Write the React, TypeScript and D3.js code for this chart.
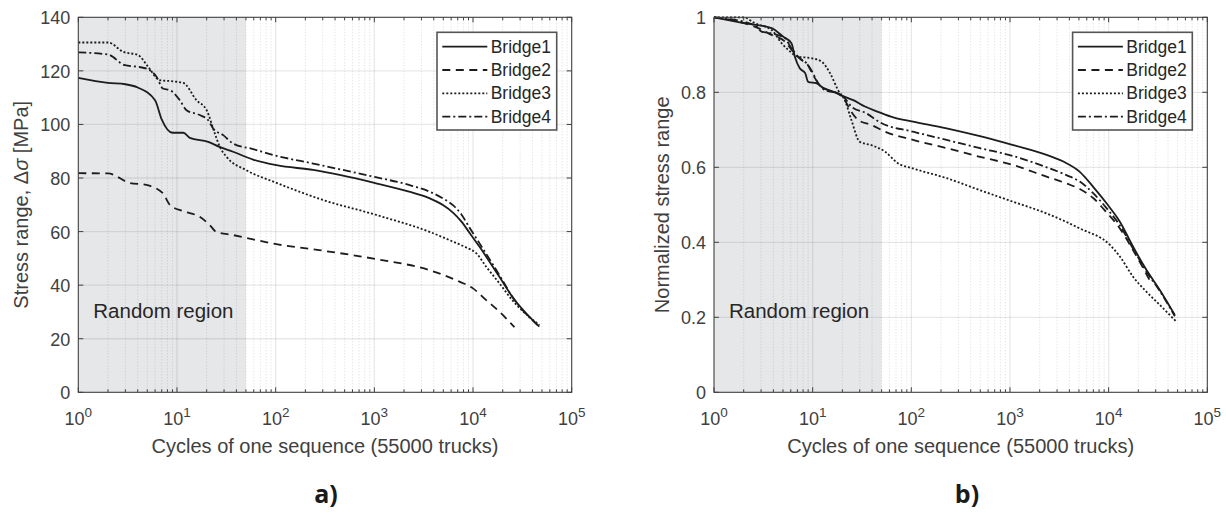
import React from 'react';
import * as d3 from 'd3';

type Pt = [number, number];

// ---------- data ----------
const SERIES_NAMES = ['Bridge1', 'Bridge2', 'Bridge3', 'Bridge4'];
const X_TICK_EXPONENTS = [0, 1, 2, 3, 4, 5];
const LEFT_Y_TICKS = [0, 20, 40, 60, 80, 100, 120, 140];
const RIGHT_Y_TICKS = [0, 0.2, 0.4, 0.6, 0.8, 1];
const RIGHT_Y_LABELS = ['0', '0.2', '0.4', '0.6', '0.8', '1'];
const RANDOM_REGION_END = 50;

// a) Stress range [MPa]
const STRESS_B1: Pt[] = [[1,117.4],[2,115.5],[3,115],[4,113.8],[6,109],[7,101.9],[9,96.9],[11.6,96.9],[13.5,95],[20.7,93.5],[27,91.6],[37,89.8],[59,86.9],[102,84.8],[240,83],[1000,78.2],[2200,75],[3600,72.5],[5000,69.8],[6300,67],[7600,63.8],[9200,59.6],[11650,54.3],[18500,43.1],[25000,35.7],[47000,24.5]];
const STRESS_B2: Pt[] = [[1,81.8],[2,81.7],[3.3,78.2],[4.9,77.4],[7.2,74.3],[8.5,69.9],[11.6,67.6],[17,65.5],[21.5,62.4],[25,59.9],[37,58.7],[59,57.1],[102,55.3],[240,53.4],[1050,49.7],[3630,45.6],[7300,41.3],[10000,38.8],[13600,34.4],[18500,30.1],[26300,24.3]];
const STRESS_B3: Pt[] = [[1,130.6],[2,130.6],[2.86,127.1],[4.05,125.9],[5.1,121.5],[6.7,116.5],[8.5,116.2],[11.6,115.5],[15.8,109],[20,105.3],[24.2,96.6],[27.2,91.6],[31.8,87.9],[50.6,82.9],[102,78.2],[290,72],[1050,66.2],[3630,59.9],[6300,56.2],[8600,54],[10800,51.9],[13600,46.9],[18500,40.7],[25000,34.4],[47000,25.1]];
const STRESS_B4: Pt[] = [[1,126.9],[2,126.1],[2.97,122.1],[4.05,121.5],[5.1,120.6],[6.2,117.8],[7.2,113.4],[8.5,112.8],[10.7,109],[12.5,105.3],[17,103.5],[20.7,101.6],[23.3,98.5],[29.4,96],[37,92.9],[59,90.8],[102,88.3],[240,85.4],[1007,80.4],[2200,77.5],[3630,74.9],[5000,72.3],[6300,69.8],[7600,66.5],[9200,61.5],[11650,55.6],[18500,43.8],[25000,35.7],[47000,24.5]];

// b) Normalized stress range
const NORM_B1: Pt[] = [[1,1],[2.06,0.984],[3.84,0.971],[5.04,0.948],[6.1,0.931],[6.6,0.895],[7.4,0.864],[8.4,0.851],[9,0.828],[11,0.824],[12.8,0.811],[15.6,0.803],[21.2,0.788],[25.8,0.779],[33.9,0.762],[46,0.748],[65.6,0.733],[104,0.722],[228,0.704],[496,0.683],[1080,0.659],[2350,0.633],[3740,0.611],[5100,0.588],[6970,0.548],[9520,0.504],[13000,0.455],[17700,0.388],[24200,0.326],[33000,0.273],[46900,0.206]];
const NORM_B2: Pt[] = [[1,1],[2,0.985],[2.81,0.971],[3.84,0.953],[5.25,0.935],[6.35,0.908],[7.7,0.886],[8.7,0.877],[10.1,0.846],[11.8,0.819],[14.4,0.806],[18.1,0.797],[21.2,0.779],[24,0.753],[29,0.726],[39.4,0.713],[54,0.695],[104,0.673],[228,0.651],[496,0.628],[1080,0.606],[2350,0.575],[3740,0.557],[5100,0.542],[6970,0.518],[9520,0.48],[13000,0.437],[17700,0.379],[26300,0.297]];
const NORM_B3: Pt[] = [[1,1],[2,1],[2.6,0.984],[3.84,0.966],[4.85,0.931],[5.66,0.913],[7.1,0.895],[9.7,0.891],[12.3,0.882],[15,0.851],[18.1,0.806],[21.2,0.779],[24.7,0.726],[30,0.668],[39.4,0.659],[54,0.642],[73,0.611],[104,0.597],[228,0.571],[496,0.539],[1080,0.508],[2350,0.477],[5100,0.437],[10300,0.393],[13000,0.362],[17700,0.308],[24200,0.268],[33000,0.233],[48700,0.188]];
const NORM_B4: Pt[] = [[1,1],[2.6,0.979],[3.04,0.962],[3.84,0.957],[5.25,0.944],[6.1,0.917],[7.4,0.891],[8.7,0.877],[9.7,0.859],[11.4,0.824],[13.3,0.806],[18.1,0.797],[21.2,0.784],[24.7,0.762],[35,0.744],[48,0.72],[104,0.695],[228,0.673],[496,0.651],[1080,0.63],[2350,0.6],[3740,0.579],[5100,0.562],[6970,0.531],[9520,0.491],[13000,0.445],[17700,0.383],[24200,0.322],[33000,0.27],[46900,0.203]];

// ---------- style ----------
const FONT = '"Liberation Sans", Arial, Helvetica, sans-serif';
const DASHES = ['none', '8,5.5', '2,2', '8,3,2,3'];
const LINE_COLOR = '#1c1c1c';
const AXIS_COLOR = '#404040';
const TEXT_COLOR = '#404040';

interface PanelProps {
  x0: number; x1: number; y0: number; y1: number;
  yMax: number;
  yTicks: number[];
  yLabels: string[];
  series: Pt[][];
  yLabel: React.ReactNode;
  yLabelX: number;
  caption: string;
  captionX: number;
}

function Panel(p: PanelProps) {
  const x = d3.scaleLog().domain([1, 1e5]).range([p.x0, p.x1]);
  const y = d3.scaleLinear().domain([0, p.yMax]).range([p.y1, p.y0]);
  const line = d3.line<Pt>().x(d => x(d[0])).y(d => y(d[1])).curve(d3.curveMonotoneX);
  const minor: number[] = [];
  for (let e = 0; e < 5; e++) for (let m = 2; m <= 9; m++) minor.push(m * Math.pow(10, e));
  const cx = (p.x0 + p.x1) / 2;
  const cy = (p.y0 + p.y1) / 2;
  const lgW = 119.7, lgH = 97.7;
  const lgX = p.x1 - 15 - lgW, lgY = p.y0 + 15;
  return (
    <g>
      <rect x={p.x0} y={p.y0} width={x(RANDOM_REGION_END) - p.x0} height={p.y1 - p.y0} fill="#e6e7e9" />
      {minor.map((v, i) => (
        <line key={'mg' + i} x1={x(v)} x2={x(v)} y1={p.y0} y2={p.y1} stroke="#262626" strokeOpacity={0.16} strokeDasharray="1,2" strokeWidth={1} />
      ))}
      {X_TICK_EXPONENTS.slice(1, -1).map(e => (
        <line key={'xg' + e} x1={x(Math.pow(10, e))} x2={x(Math.pow(10, e))} y1={p.y0} y2={p.y1} stroke="#262626" strokeOpacity={0.1} strokeWidth={1.3} />
      ))}
      {p.yTicks.slice(1, -1).map((v, i) => (
        <line key={'yg' + i} x1={p.x0} x2={p.x1} y1={y(v)} y2={y(v)} stroke="#262626" strokeOpacity={0.1} strokeWidth={1.3} />
      ))}
      {p.series.map((s, i) => (
        <path key={'s' + i} d={line(s) || ''} fill="none" stroke={LINE_COLOR} strokeWidth={1.8} strokeDasharray={DASHES[i]} strokeLinejoin="round" />
      ))}
      <rect x={p.x0} y={p.y0} width={p.x1 - p.x0} height={p.y1 - p.y0} fill="none" stroke={AXIS_COLOR} strokeWidth={1.1} />
      {X_TICK_EXPONENTS.map(e => {
        const xx = x(Math.pow(10, e));
        return (
          <g key={'xt' + e}>
            <line x1={xx} x2={xx} y1={p.y1} y2={p.y1 - 5} stroke={AXIS_COLOR} />
            <line x1={xx} x2={xx} y1={p.y0} y2={p.y0 + 5} stroke={AXIS_COLOR} />
            <text x={xx} y={425} textAnchor="middle" fontFamily={FONT} fontSize={18} fill={TEXT_COLOR}>
              10<tspan dy={-8.5} fontSize={13.5}>{e}</tspan>
            </text>
          </g>
        );
      })}
      {minor.map((v, i) => (
        <g key={'mt' + i}>
          <line x1={x(v)} x2={x(v)} y1={p.y1} y2={p.y1 - 3} stroke={AXIS_COLOR} />
          <line x1={x(v)} x2={x(v)} y1={p.y0} y2={p.y0 + 3} stroke={AXIS_COLOR} />
        </g>
      ))}
      {p.yTicks.map((v, i) => (
        <g key={'yt' + i}>
          <line x1={p.x0} x2={p.x0 + 5} y1={y(v)} y2={y(v)} stroke={AXIS_COLOR} />
          <line x1={p.x1} x2={p.x1 - 5} y1={y(v)} y2={y(v)} stroke={AXIS_COLOR} />
          <text x={p.x0 - 8} y={y(v) + 7} textAnchor="end" fontFamily={FONT} fontSize={18} fill={TEXT_COLOR}>{p.yLabels[i]}</text>
        </g>
      ))}
      <text x={cx} y={453} textAnchor="middle" fontFamily={FONT} fontSize={20} fill={TEXT_COLOR}>Cycles of one sequence (55000 trucks)</text>
      <text transform={`translate(${p.yLabelX},${cy}) rotate(-90)`} textAnchor="middle" fontFamily={FONT} fontSize={20} fill={TEXT_COLOR}>{p.yLabel}</text>
      <text x={p.x0 + 15} y={318} fontFamily={FONT} fontSize={20.5} fill="#262626">Random region</text>
      <text x={p.captionX} y={503} textAnchor="middle" fontFamily={'"Open Sans", "DejaVu Sans", sans-serif'} fontWeight="bold" fontSize={25} fill="#1a1a1a">{p.caption}</text>
      <rect x={lgX} y={lgY} width={lgW} height={lgH} fill="#ffffff" stroke="#555555" strokeWidth={1.6} />
      {SERIES_NAMES.map((n, i) => {
        const ry = lgY + 14.4 + i * 23.3;
        return (
          <g key={'lg' + i}>
            <line x1={lgX + 5.3} x2={lgX + 50.3} y1={ry} y2={ry} stroke={LINE_COLOR} strokeWidth={1.8} strokeDasharray={DASHES[i]} />
            <text x={lgX + 53.7} y={ry + 6} fontFamily={FONT} fontSize={17.5} fill="#262626">{n}</text>
          </g>
        );
      })}
    </g>
  );
}

export default function App() {
  return (
    <svg width={1226} height={514} style={{ position: 'absolute', left: 0, top: 0, background: '#ffffff' }}>
      <rect x={0} y={0} width={1226} height={514} fill="#ffffff" />
      <Panel
        x0={78.3} x1={571.7} y0={17.3} y1={392.3}
        yMax={140}
        yTicks={LEFT_Y_TICKS}
        yLabels={LEFT_Y_TICKS.map(String)}
        series={[STRESS_B1, STRESS_B2, STRESS_B3, STRESS_B4]}
        yLabel={<>Stress range, Δ<tspan fontStyle="italic">σ</tspan> [MPa]</>}
        yLabelX={28}
        caption="a)"
        captionX={326}
      />
      <Panel
        x0={714} x1={1207.3} y0={17.3} y1={392.3}
        yMax={1}
        yTicks={RIGHT_Y_TICKS}
        yLabels={RIGHT_Y_LABELS}
        series={[NORM_B1, NORM_B2, NORM_B3, NORM_B4]}
        yLabel="Normalized stress range"
        yLabelX={669}
        caption="b)"
        captionX={967}
      />
    </svg>
  );
}
